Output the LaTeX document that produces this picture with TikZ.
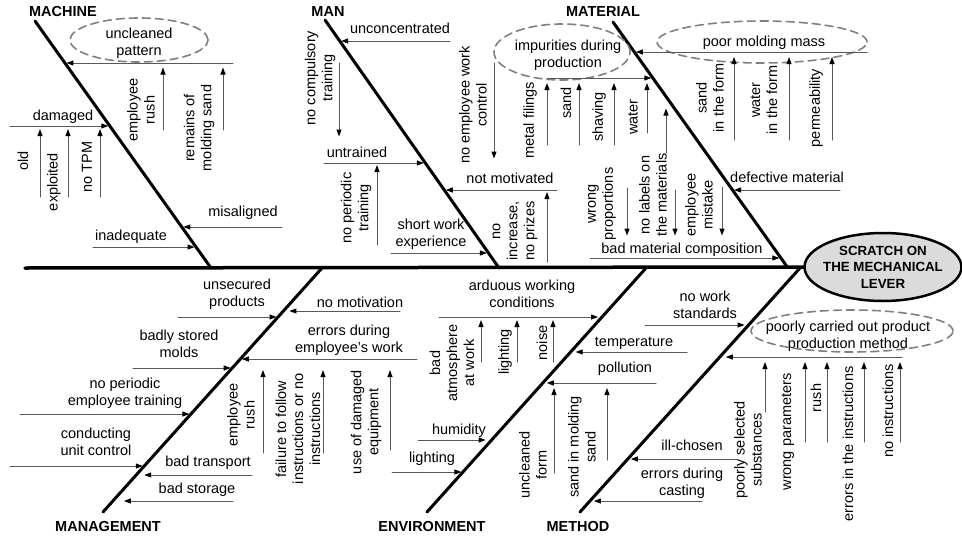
\documentclass[tikz,border=0pt]{standalone}
\usepackage{fontspec}
\setmainfont{Liberation Sans}
\usetikzlibrary{arrows.meta,shapes.geometric,calc}

\tikzset{
  bonel/.style={line width=3pt,line cap=round},
  causearr/.style={draw=gray!70!black,line width=1pt,shorten >=1.5pt,
    -{Triangle[length=7pt,width=5pt,color=black]}},
  txt/.style={font=\fontsize{14.5}{17}\selectfont,inner sep=0pt,align=center},
  vtxt/.style={txt,rotate=90},
  cattxt/.style={font=\bfseries\fontsize{14.5}{17}\selectfont,inner sep=0pt},
  grpline/.style={draw=gray,dash pattern=on 8pt off 5pt,line width=1.6pt},
  effline/.style={draw=black,fill=gray!28,line width=2.5pt},
  efftxt/.style={font=\bfseries\fontsize{13.3}{16.5}\selectfont,inner sep=0pt,align=center},
}

% fleche horizontale vers une arete
\newcommand{\hcause}[4][]{%
  \draw[causearr,#1] let \p1=(#2), \p2=(#3), \p3=(#4) in
    (#2) -- ({\x2+(\y1-\y2)/(\y3-\y2)*(\x3-\x2)},\y1);}

\begin{document}
\begin{tikzpicture}[line cap=round,line join=round,x=1pt,y=-1pt]
		\useasboundingbox (0,0) rectangle (962,536);
		
		% Effet
		\coordinate (effC) at (883,267);
		\coordinate (effW) at ([xshift=-78.5pt]effC);
		\coordinate (spL) at (25,268);
		\draw[line width=3.5pt] (spL) -- (effW);
		\draw[effline] (effC) ellipse [x radius=78.5pt,y radius=34pt];
		\node[efftxt] (eff) at (effC) {SCRATCH ON\\THE MECHANICAL\\LEVER};
		
		% Aretes
		\coordinate (machA) at (35,21);   \coordinate (machB) at (211,268);
		\coordinate (manA) at (325,20);   \coordinate (manB) at (499,268);
		\coordinate (matA) at (613,22);   \coordinate (matB) at (788,268);
		\coordinate (mgtA) at (103,512);  \coordinate (mgtB) at (322,268);
		\coordinate (envA) at (427,512);  \coordinate (envB) at (646,268);
		\coordinate (metA) at (580,512);  \coordinate (metB) at (800,268);
		\foreach \a/\b in {machA/machB,manA/manB,matA/matB,mgtA/mgtB,envA/envB,metA/metB}
			\draw[bonel] (\a) -- (\b);
		
		% Categories
		\node[cattxt] (machine) at (63,12) {MACHINE};
		\node[cattxt] (man) at (328,12) {MAN};
		\node[cattxt] (material) at (603,12) {MATERIAL};
		\node[cattxt] (management) at (108,527) {MANAGEMENT};
		\node[cattxt] (environment) at (432,527) {ENVIRONMENT};
		\node[cattxt] (method) at (578,527) {METHOD};
		
		% MACHINE
		\node[txt] (uncpat) at (139,43) {uncleaned\\pattern};
		\draw[grpline] ([yshift=3pt]uncpat.center) ellipse [x radius=69pt,y radius=22pt];
		\coordinate (uncS) at (233,63);
		\hcause{uncS}{machA}{machB}
		\node[vtxt] (emprush) at (141,110) {employee\\rush};
		\node[vtxt] (remains) at (199,128) {remains of\\molding sand};
		\foreach \n/\x in {er/163,rm/223} {
			\coordinate (\n) at (\x,130);
			\draw[causearr,shorten >=4.5pt] (\n) -- (\n |- uncS);
		}
		\node[txt] (damaged) at (63,117) {damaged};
		\coordinate (dmgS) at (10,126);
		\hcause{dmgS}{machA}{machB}
		\node[vtxt] (old) at (23,161) {old};
		\node[vtxt] (exploited) at (54,182) {exploited};
		\node[vtxt] (notpm) at (87,167) {no TPM};
		\foreach \n/\x in {ol/40,ex/68,tp/100} {
			\coordinate (\n) at (\x,197);
			\draw[causearr,shorten >=3pt] (\n) -- (\n |- dmgS);
		}
		\node[txt] (misal) at (243,213) {misaligned};
		\coordinate (misS) at (282,227);
		\hcause{misS}{machA}{machB}
		\node[txt] (inad) at (131,237) {inadequate};
		\coordinate (inadS) at (93,247);
		\hcause{inadS}{machA}{machB}
		
		% MAN
		\node[txt] (uncon) at (400,28) {unconcentrated};
		\coordinate (unconS) at (450,41);
		\hcause{unconS}{manA}{manB}
		\node[txt] (untr) at (357,152) {untrained};
		\coordinate (untrS) at (324,163);
		\hcause{untrS}{manA}{manB}
		\node[vtxt] (nocomp) at (320,78) {no compulsory\\training};
		\coordinate (ncA) at (339,63);
		\draw[causearr] (ncA) -- ++(0,75);
		\node[vtxt] (noper) at (356,208) {no periodic\\training};
		\coordinate (npA) at (377,245);
		\draw[causearr,shorten >=2pt] (npA) -- (npA |- untrS);
		\node[txt] (notmot) at (510,178) {not motivated};
		\coordinate (motS) at (557,190);
		\hcause{motS}{manA}{manB}
		\node[vtxt] (noctrl) at (473,105) {no employee work\\control};
		\coordinate (neA) at (494,63);
		\draw[causearr] (neA) -- ++(0,97);
		\node[vtxt] (noinc) at (515,231) {no\\increase,\\no prizes};
		\coordinate (niA) at (547,262);
		\draw[causearr,shorten >=2pt] (niA) -- (niA |- motS);
		\node[txt] (shortw) at (431,234) {short work\\experience};
		\coordinate (shortS) at (391,253);
		\hcause{shortS}{manA}{manB}
		
		% MATERIAL
		\node[txt] (impur) at (568,55) {impurities during\\production};
		\draw[grpline] ([shift={(-6,-3)}]impur.center) ellipse [x radius=68pt,y radius=28pt];
		\coordinate (impS) at (547,78);
		\hcause{impS}{matA}{matB}
		\node[vtxt] (metal) at (530,120) {metal filings};
		\node[vtxt] (sand) at (566,103) {sand};
		\node[vtxt] (shaving) at (599,117) {shaving};
		\node[vtxt] (water) at (633,117) {water};
		\foreach \n/\x/\y in {mf/547/145,sd/579/145,sh/614/145,wt/647/133} {
			\coordinate (\n) at (\x,\y);
			\draw[causearr,shorten >=5pt] (\n) -- (\n |- impS);
		}
		\node[txt] (poormm) at (764,43) {poor molding mass};
		\draw[grpline] ([shift={(-2,-1)}]poormm.center) ellipse [x radius=105pt,y radius=21pt];
		\coordinate (poorS) at (867,52);
		\hcause{poorS}{matA}{matB}
		\node[vtxt] (sandf) at (710,98) {sand\\in the form};
		\node[vtxt] (waterf) at (764,100) {water\\in the form};
		\node[vtxt] (perm) at (816,108) {permeability};
		\foreach \n/\x in {sf/734,wf/789,pm/832} {
			\coordinate (\n) at (\x,140);
			\draw[causearr,shorten >=5pt] (\n) -- (\n |- poorS);
		}
		\node[txt] (defmat) at (787,177) {defective material};
		\coordinate (defS) at (840,190);
		\hcause{defS}{matA}{matB}
		\node[txt] (badmat) at (682,250) {bad material composition};
		\coordinate (badS) at (590,258);
		\hcause{badS}{matA}{matB}
		\node[vtxt] (wrongp) at (602,204) {wrong\\proportions};
		\node[vtxt] (nolab) at (653,195) {no labels on\\the materials};
		\node[vtxt] (empmis) at (699,205) {employee\\mistake};
		\coordinate (wpA) at (627,188);
		\coordinate (nlA) at (675,190);
		\coordinate (nlB) at (666,153);
		\coordinate (emA) at (722,187);
		\draw[causearr] (wpA) -- ++(0,49);
		\draw[causearr] (nlA) -- ++(0,47);
		\draw[causearr] (nlB) -- ++(0,-46);
		\draw[causearr] (emA) -- ++(0,50);
		
		% MANAGEMENT
		\node[txt] (unsec) at (237,294) {unsecured\\products};
		\coordinate (unsS) at (178,317);
		\hcause{unsS}{mgtA}{mgtB}
		\node[txt] (badly) at (179,344) {badly stored\\molds};
		\coordinate (badlyS) at (133,368);
		\hcause{badlyS}{mgtA}{mgtB}
		\node[txt] (noperemp) at (125,393) {no periodic\\employee training};
		\coordinate (perS) at (20,414);
		\hcause{perS}{mgtA}{mgtB}
		\node[txt] (cond) at (96,442) {conducting\\unit control};
		\coordinate (condS) at (10,466);
		\hcause{condS}{mgtA}{mgtB}
		\node[txt] (btrans) at (208,463) {bad transport};
		\coordinate (transS) at (252,475);
		\hcause[shorten >=8pt]{transS}{mgtA}{mgtB}
		\node[txt] (bstor) at (197,490) {bad storage};
		\coordinate (storS) at (233,501);
		\hcause[shorten >=11pt]{storS}{mgtA}{mgtB}
		\node[txt] (nomot) at (360,302) {no motivation};
		\coordinate (nomS) at (400,311);
		\hcause[shorten >=6pt]{nomS}{mgtA}{mgtB}
		\node[txt] (errdur) at (349,340) {errors during\\employee's work};
		\coordinate (errS) at (417,359);
		\hcause{errS}{mgtA}{mgtB}
		\node[vtxt] (emprush2) at (241,415) {employee\\rush};
		\node[vtxt] (failure) at (298,429) {failure to follow\\instructions or no\\instructions};
		\node[vtxt] (usedam) at (366,422) {use of damaged\\equipment};
		\foreach \n/\x/\y in {r2/263/453,ff/323/453,ud/390/450} {
			\coordinate (\n) at (\x,\y);
			\draw[causearr,shorten >=11pt] (\n) -- (\n |- errS);
		}
		
		% ENVIRONMENT
		\node[txt] (arduous) at (522,294) {arduous working\\conditions};
		\coordinate (ardS) at (439,317);
		\hcause[shorten >=4pt]{ardS}{envA}{envB}
		\node[vtxt] (badatm) at (452,363) {bad\\atmosphere\\at work};
		\node[vtxt] (light1) at (505,352) {lighting};
		\node[vtxt] (noise) at (542,343) {noise};
		\foreach \n/\x in {ba/481,l1/517,ns/553} {
			\coordinate (\n) at (\x,362);
			\draw[causearr,shorten >=3pt] (\n) -- (\n |- ardS);
		}
		\node[txt] (temp) at (634,343) {temperature};
		\coordinate (tempS) at (687,352);
		\hcause[shorten >=5pt]{tempS}{envA}{envB}
		\node[txt] (pollut) at (625,369) {pollution};
		\coordinate (polS) at (656,383);
		\hcause[shorten >=4pt]{polS}{envA}{envB}
		\node[vtxt] (uncform) at (533,465) {uncleaned\\form};
		\node[vtxt] (sandms) at (582,447) {sand in molding\\sand};
		\foreach \n/\x/\y in {uf/554/473,sm/607/460} {
			\coordinate (\n) at (\x,\y);
			\draw[causearr,shorten >=5pt] (\n) -- (\n |- polS);
		}
		\node[txt] (humid) at (459,431) {humidity};
		\coordinate (humS) at (418,440);
		\hcause[shorten >=6pt]{humS}{envA}{envB}
		\node[txt] (light2) at (432,459) {lighting};
		\coordinate (lightS) at (392,472);
		\hcause{lightS}{envA}{envB}
		
		% METHOD
		\node[txt] (nowork) at (705,305) {no work\\standards};
		\coordinate (stdS) at (645,325);
		\hcause[shorten >=4pt]{stdS}{metA}{metB}
		\node[txt] (poorcar) at (848,336) {poorly carried out product\\production method};
		\draw[grpline] ([shift={(4,-5)}]poorcar.center) ellipse [x radius=101pt,y radius=21pt];
		\coordinate (pcS) at (902,357);
		\hcause[shorten >=6pt]{pcS}{metA}{metB}
		\node[vtxt] (poorsel) at (748,450) {poorly selected\\substances};
		\node[vtxt] (wrongpar) at (788,432) {wrong parameters};
		\node[vtxt] (rush3) at (816,398) {rush};
		\node[vtxt] (errins) at (848,444) {errors in the instructions};
		\node[vtxt] (noins) at (888,411) {no instructions};
		\foreach \n/\x/\y in {ps/765/412,wpar/805/442,r3/827/442,ei/864/442,ni/900/442} {
			\coordinate (\n) at (\x,\y);
			\draw[causearr,shorten >=5pt] (\n) -- (\n |- pcS);
		}
		\node[txt] (illch) at (692,445) {ill-chosen};
		\coordinate (illS) at (738,459);
		\hcause[shorten >=3pt]{illS}{metA}{metB}
		\node[txt] (errcast) at (682,483) {errors during\\casting};
		\coordinate (castS) at (702,501);
		\hcause[shorten >=4pt]{castS}{metA}{metB}
	\end{tikzpicture}
\end{document}
